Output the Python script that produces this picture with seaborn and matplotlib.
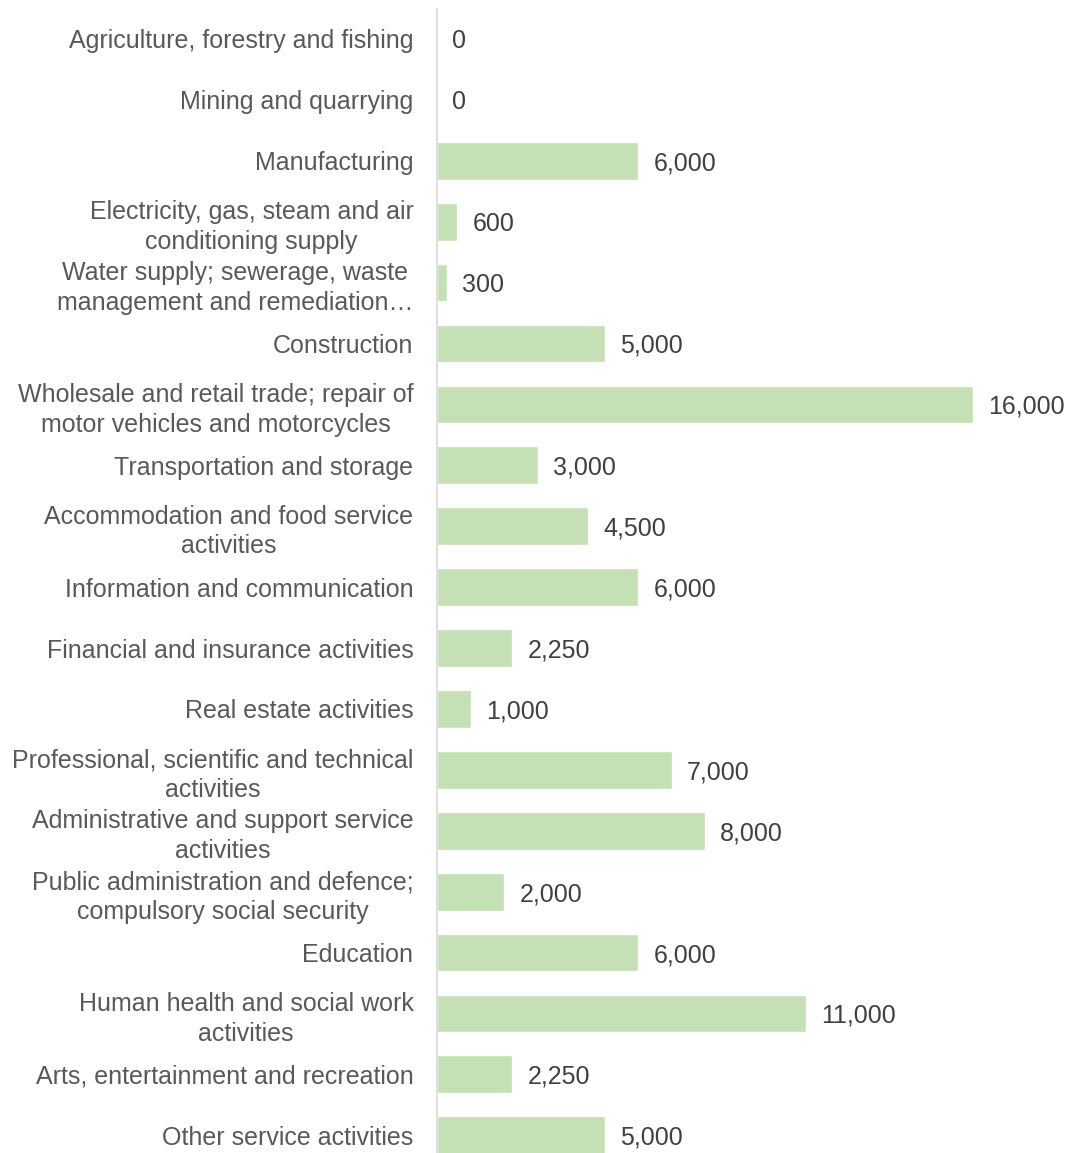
import matplotlib
matplotlib.use("Agg")
import matplotlib.pyplot as plt
import seaborn as sns
import pandas as pd

# Employment by industry (number of employees)
industries = [
    "Agriculture, forestry and fishing",
    "Mining and quarrying",
    "Manufacturing",
    "Electricity, gas, steam and air\nconditioning supply",
    "Water supply; sewerage, waste\nmanagement and remediation…",
    "Construction",
    "Wholesale and retail trade; repair of\nmotor vehicles and motorcycles",
    "Transportation and storage",
    "Accommodation and food service\nactivities",
    "Information and communication",
    "Financial and insurance activities",
    "Real estate activities",
    "Professional, scientific and technical\nactivities",
    "Administrative and support service\nactivities",
    "Public administration and defence;\ncompulsory social security",
    "Education",
    "Human health and social work\nactivities",
    "Arts, entertainment and recreation",
    "Other service activities",
]
employees = [0, 0, 6000, 600, 300, 5000, 16000, 3000, 4500, 6000,
             2250, 1000, 7000, 8000, 2000, 6000, 11000, 2250, 5000]

df = pd.DataFrame({"industry": industries, "employees": employees})

sns.set_theme(style="white")
plt.rcParams["font.family"] = ["Liberation Sans", "DejaVu Sans"]

BAR_COLOR = "#c5e0b4"
LABEL_COLOR = "#595959"
VALUE_COLOR = "#404040"
AXIS_COLOR = "#d9d9d9"

fig = plt.figure(figsize=(10.68, 11.53), dpi=100)
ax = fig.add_axes([0.4092, -0.0110, 0.5646, 1.0036])

sns.barplot(data=df, x="employees", y="industry", orient="h",
            color=BAR_COLOR, saturation=1, width=0.62, ax=ax)

ax.set_xlim(0, 18000)
ax.set_ylim(len(industries) - 0.5, -0.5)

texts = ax.bar_label(ax.containers[0], labels=[f"{v:,.0f}" for v in employees],
                     padding=11, fontsize=18, color=VALUE_COLOR)
for t in texts:
    t.set_va("center_baseline")

ax.set_xlabel("")
ax.set_ylabel("")
ax.xaxis.set_visible(False)
ax.tick_params(axis="y", length=0, pad=17, labelsize=18, labelcolor=LABEL_COLOR)
for lbl in ax.get_yticklabels():
    lbl.set_multialignment("center")
    lbl.set_linespacing(1.3)

for side in ["top", "right", "bottom"]:
    ax.spines[side].set_visible(False)
ax.spines["left"].set_color(AXIS_COLOR)
ax.spines["left"].set_linewidth(1.2)

fig.savefig("out.png", dpi=100)
